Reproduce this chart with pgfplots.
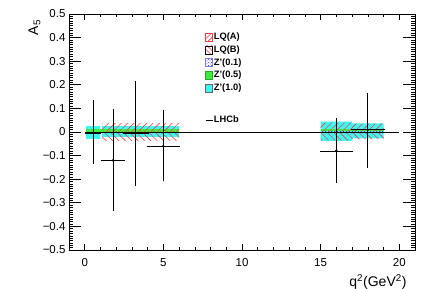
\documentclass[border=0pt]{standalone}
\usepackage{pgfplots}
\pgfplotsset{compat=1.18}
\usetikzlibrary{patterns,patterns.meta}
\usepackage{fontspec}
\setmainfont{Liberation Sans}
\definecolor{rcyan}{RGB}{60,250,250}
\definecolor{rgreen}{RGB}{60,235,60}
\definecolor{rred}{RGB}{245,60,60}
\definecolor{rblue}{RGB}{40,40,230}
\pgfplotsset{lhcbleg/.style={legend image code/.code={\draw[##1] (0pt,0pt) -- (7pt,0pt);}}}
\begin{document}
\begin{tikzpicture}
\begin{axis}[
  scale only axis, width=346pt, height=236pt,
  xmin=-1, xmax=21, ymin=-0.5, ymax=0.5,
  axis line style={line width=0.8pt},
  tick align=inside, xtick pos=both, ytick pos=both,
  xtick={0,5,10,15,20}, minor x tick num=4,
  ytick={-0.5,-0.4,-0.3,-0.2,-0.1,0,0.1,0.2,0.3,0.4,0.5},
  yticklabels={−0.5,−0.4,−0.3,−0.2,−0.1,0,0.1,0.2,0.3,0.4,0.5},
  minor y tick num=9,
  xtick style={black, line width=0.6pt, /pgfplots/major tick length=6pt, /pgfplots/minor tick length=3pt},
  ytick style={black, line width=0.6pt, /pgfplots/major tick length=12pt, /pgfplots/minor tick length=4.5pt},
  /pgf/number format/assume math mode=true,
  tick label style={font=\fontsize{11.5}{13}\selectfont},
  xticklabel style={yshift=-5pt},
  xlabel={q\textsuperscript{2}(GeV\textsuperscript{2})},
  ylabel={A\textsubscript{5}},
  label style={font=\fontsize{14}{16}\selectfont},
  xlabel style={at={(axis description cs:0.9855,-0.09)}, anchor=north east},
  ylabel style={at={(axis description cs:-0.127,0.99)}, anchor=north east},
  legend cell align=left,
  legend image code/.code={\draw[#1] (0pt,-4pt) rectangle (7pt,4pt);},
  legend style={at={(axis description cs:0.393,0.928)}, anchor=north west,
    draw=none, fill=none, inner sep=0pt, row sep=0.7pt,
    font=\bfseries\fontsize{9.3}{11}\selectfont,
    nodes={text height=7pt, text depth=2pt, inner ysep=1.5pt, inner xsep=1pt}},
]
\coordinate (sw) at (rel axis cs:0,0);
\coordinate (ne) at (rel axis cs:1,1);

\addlegendimage{draw=rred, pattern={Lines[angle=45, distance=3.5pt, line width=0.6pt]}, pattern color=rred}
\addlegendentry{LQ(A)}
\addlegendimage{draw=black, pattern={Lines[angle=-45, distance=3.5pt, line width=0.6pt]}, pattern color=rred}
\addlegendentry{LQ(B)}
\addlegendimage{draw=rblue!60, pattern=crosshatch dots, pattern color=rblue}
\addlegendentry{Z'(0.1)}
\addlegendimage{draw=rgreen!70!black, fill=rgreen}
\addlegendentry{Z'(0.5)}
\addlegendimage{draw=black!60, fill=rcyan}
\addlegendentry{Z'(1.0)}
\addlegendimage{empty legend}
\addlegendentry[text height=13.6pt]{}
\addlegendimage{black, line width=0.8pt, lhcbleg}
\addlegendentry{LHCb}

% Z'(1.0)
\addplot[forget plot, draw=none, fill=rcyan] coordinates {
  (0.1,-0.03) (0.1,0.025) (0.98,0.025) (0.98,-0.03)} -- cycle;
\addplot[forget plot, draw=none, fill=rcyan] coordinates {
  (1.1,-0.022) (1.1,0.024) (6.0,0.024) (6.0,-0.022)} -- cycle;
\addplot[forget plot, draw=none, fill=rcyan] coordinates {
  (15,-0.038) (15,0.044) (17,0.044) (17,0.037) (19,0.037) (19,-0.027) (17,-0.027) (17,-0.038)} -- cycle;
% Z'(0.1)
\addplot[forget plot, draw=none, pattern=crosshatch dots, pattern color=rblue] coordinates {
  (0.1,-0.006) (0.1,0.006) (6.0,0.006) (6.0,-0.006)} -- cycle;
\addplot[forget plot, draw=none, pattern=crosshatch dots, pattern color=rblue] coordinates {
  (15,-0.006) (15,0.006) (19,0.006) (19,-0.006)} -- cycle;
% Z'(0.5)
\addplot[forget plot, draw=none, fill=rgreen] coordinates {
  (0.1,0.002) (0.1,0.013) (6.0,0.013) (6.0,0.002)} -- cycle;
\addplot[forget plot, draw=none, fill=rgreen] coordinates {
  (15,0.004) (15,0.014) (19,0.014) (19,0.004)} -- cycle;
% LQ(A)
\addplot[forget plot, draw=none, pattern={Lines[angle=45, distance=4.5pt, line width=0.6pt]}, pattern color=rred] coordinates {
  (1.1,0) (1.1,0.037) (6.0,0.037) (6.0,0)} -- cycle;
\addplot[forget plot, draw=none, pattern={Lines[angle=45, distance=4.5pt, line width=0.6pt]}, pattern color=rred] coordinates {
  (15,0) (15,0.04) (17,0.04) (17,0.035) (19,0.035) (19,0)} -- cycle;
% LQ(B)
\addplot[forget plot, draw=none, pattern={Lines[angle=-45, distance=4.5pt, line width=0.6pt]}, pattern color=rred] coordinates {
  (1.1,0) (1.1,-0.034) (6.0,-0.034) (6.0,0)} -- cycle;
\addplot[forget plot, draw=none, pattern={Lines[angle=-45, distance=4.5pt, line width=0.6pt]}, pattern color=rred] coordinates {
  (15,0) (15,-0.035) (17,-0.035) (17,-0.03) (19,-0.03) (19,0)} -- cycle;

% zero line
\addplot[forget plot, black, line width=0.8pt] coordinates {(0,0) (20,0)};

% LHCb
\addplot[forget plot, only marks, mark=*, mark size=1pt, black,
  error bars/.cd, x dir=both, x explicit, y dir=both, y explicit,
  error bar style={line width=0.7pt, black},
  error mark options={mark size=1pt, line width=0.7pt}]
coordinates {
  (0.54,-0.005) += (0.44,0.135) -= (0.44,0.125)
  (1.8,-0.12) += (0.7,0.215) -= (0.7,0.21)
  (3.25,-0.005) += (0.75,0.215) -= (0.75,0.22)
  (5.0,-0.06) += (1.0,0.15) -= (1.0,0.145)
  (16.0,-0.08) += (1.0,0.135) -= (1.0,0.13)
  (18.0,0.01) += (1.0,0.15) -= (1.0,0.16)
};
\end{axis}
\pgfresetboundingbox
\path[use as bounding box] ([shift={(-69pt,-39pt)}]sw) rectangle ([shift={(18pt,14pt)}]ne);
\end{tikzpicture}
\end{document}
